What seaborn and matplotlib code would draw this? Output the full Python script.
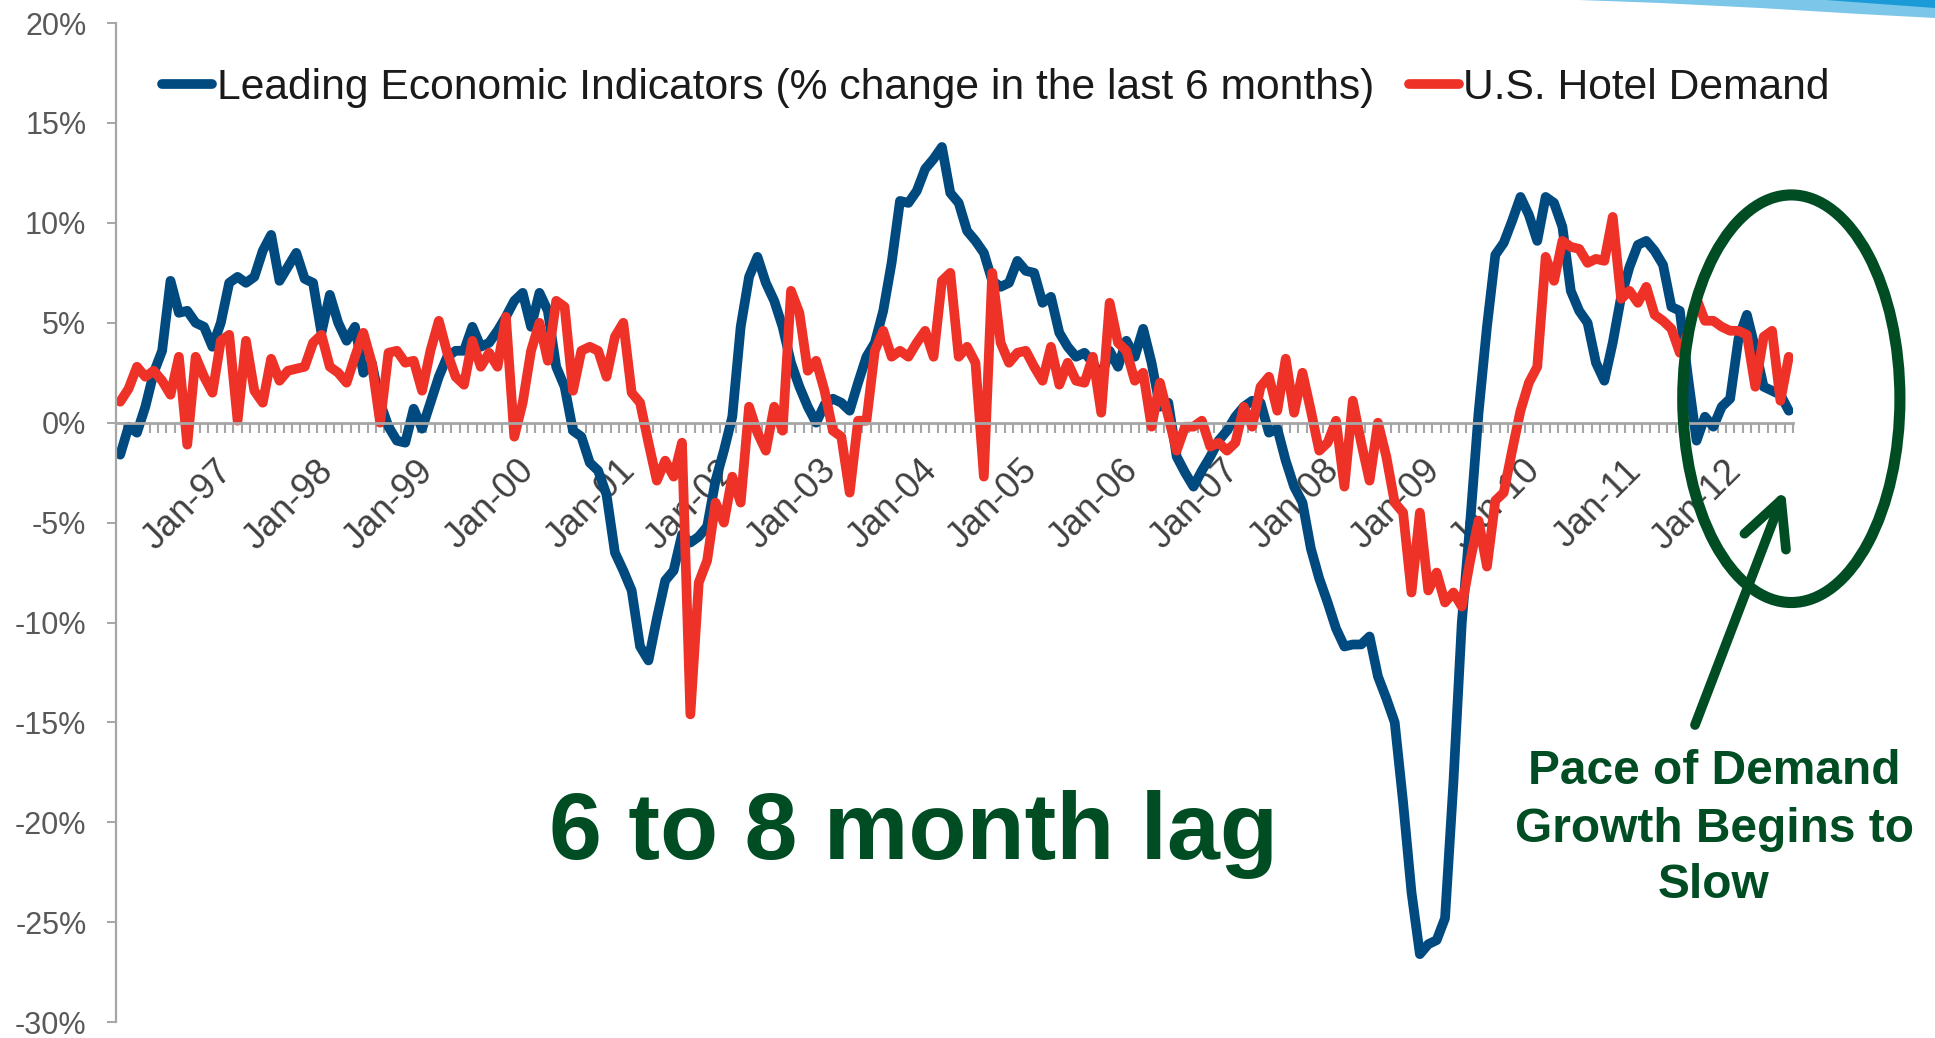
import numpy as np
import pandas as pd
import matplotlib
matplotlib.use("Agg")
import matplotlib.pyplot as plt
import seaborn as sns
from matplotlib.patches import Ellipse, Polygon
from matplotlib.ticker import FuncFormatter
from matplotlib.transforms import ScaledTranslation

# monthly series, Jan-96 .. Aug-12 (values in %)
lei_label = "Leading Economic Indicators (% change in the last 6 months)"
hotel_label = "U.S. Hotel Demand"

lei_values = [
    -1.6, -0.2, -0.5, 0.8, 2.5, 3.6, 7.1, 5.5, 5.6, 5.0, 4.8, 3.8,
    5.0, 7.0, 7.3, 7.0, 7.3, 8.6, 9.4, 7.1, 7.8, 8.5, 7.2, 7.0,
    4.5, 6.4, 5.0, 4.1, 4.8, 2.5, 3.0, 1.0, -0.2, -0.9, -1.0, 0.7,
    -0.3, 1.0, 2.3, 3.3, 3.6, 3.6, 4.8, 3.8, 4.0, 4.6, 5.3, 6.1,
    6.5, 4.8, 6.5, 5.6, 2.8, 1.8, -0.4, -0.7, -2.0, -2.4, -3.6, -6.5,
    -7.4, -8.4, -11.2, -11.9, -9.8, -7.9, -7.4, -5.6, -6.0, -5.7, -5.2, -2.9,
    -1.4, 0.3, 4.8, 7.3, 8.3, 7.0, 6.1, 4.8, 3.0, 1.8, 0.8, 0.0,
    0.9, 1.2, 1.0, 0.6, 2.0, 3.3, 4.0, 5.6, 8.0, 11.1, 11.0, 11.6,
    12.7, 13.2, 13.8, 11.5, 11.0, 9.6, 9.1, 8.5, 7.1, 6.8, 7.0, 8.1,
    7.6, 7.5, 6.0, 6.3, 4.5, 3.8, 3.3, 3.5, 3.0, 2.3, 3.6, 2.8,
    4.1, 3.3, 4.7, 3.0, 0.8, 1.0, -1.7, -2.5, -3.2, -2.4, -1.7, -0.9,
    -0.4, 0.3, 0.8, 1.1, 1.0, -0.5, -0.3, -1.9, -3.2, -4.0, -6.3, -7.8,
    -9.0, -10.3, -11.2, -11.1, -11.1, -10.7, -12.7, -13.8, -15.0, -19.0, -23.5, -26.6,
    -26.1, -25.9, -24.8, -18.0, -10.0, -5.0, 0.5, 4.8, 8.4, 9.0, 10.1, 11.3,
    10.4, 9.1, 11.3, 11.0, 9.8, 6.6, 5.6, 5.0, 3.0, 2.1, 4.0, 6.3,
    7.8, 8.9, 9.1, 8.6, 7.9, 5.8, 5.6, 2.2, -0.9, 0.3, -0.2, 0.8,
    1.2, 4.2, 5.4, 3.7, 1.8, 1.6, 1.4, 0.6,
]

hotel_values = [
    1.05, 1.7, 2.8, 2.3, 2.6, 2.1, 1.4, 3.3, -1.1, 3.3, 2.3, 1.5,
    4.1, 4.4, 0.1, 4.1, 1.6, 1.0, 3.2, 2.1, 2.6, 2.7, 2.8, 4.0,
    4.4, 2.8, 2.5, 2.0, 3.3, 4.5, 3.0, 0.0, 3.5, 3.6, 3.0, 3.1,
    1.6, 3.6, 5.1, 3.5, 2.3, 1.9, 4.1, 2.8, 3.5, 2.8, 5.3, -0.7,
    1.0, 3.6, 5.0, 3.1, 6.1, 5.8, 1.6, 3.6, 3.8, 3.6, 2.3, 4.3,
    5.0, 1.5, 1.0, -1.0, -2.9, -1.9, -2.7, -1.0, -14.6, -8.0, -6.9, -4.0,
    -5.0, -2.7, -4.0, 0.8, -0.5, -1.4, 0.8, -0.4, 6.6, 5.5, 2.6, 3.1,
    1.6, -0.4, -0.7, -3.5, 0.1, 0.1, 3.6, 4.6, 3.3, 3.6, 3.3, 4.0,
    4.6, 3.3, 7.1, 7.5, 3.3, 3.8, 3.0, -2.7, 7.5, 4.0, 3.0, 3.5,
    3.6, 2.8, 2.1, 3.8, 1.9, 3.0, 2.1, 2.0, 3.3, 0.5, 6.0, 4.0,
    3.6, 2.1, 2.5, -0.2, 2.0, 0.3, -1.4, -0.2, -0.2, 0.1, -1.2, -1.0,
    -1.4, -1.0, 0.8, -0.2, 1.8, 2.3, 0.6, 3.2, 0.5, 2.5, 0.6, -1.4,
    -1.0, 0.1, -3.2, 1.1, -1.0, -2.9, 0.0, -1.7, -4.0, -4.5, -8.5, -4.5,
    -8.4, -7.5, -9.0, -8.5, -9.2, -6.9, -4.9, -7.2, -3.9, -3.5, -1.4, 0.6,
    2.0, 2.8, 8.3, 7.1, 9.1, 8.8, 8.7, 8.0, 8.2, 8.1, 10.3, 6.2,
    6.6, 6.0, 6.8, 5.4, 5.1, 4.7, 3.5, 4.5, 6.2, 5.1, 5.1, 4.8,
    4.6, 4.6, 4.4, 1.8, 4.3, 4.6, 1.1, 3.3,
]

months = pd.date_range("1996-01-01", periods=len(lei_values), freq="MS")
y_ticks = list(range(-30, 21, 5))

BLUE = "#004a80"
RED = "#ee3228"
GREEN = "#004d24"
GRAY = "#a6a6a6"

W, H = 1935, 1038
n = len(months)

sns.set_theme(style="white")
plt.rcParams["font.family"] = ["Liberation Sans", "DejaVu Sans"]

df = pd.concat([
    pd.DataFrame({"idx": np.arange(n), "value": lei_values, "series": lei_label}),
    pd.DataFrame({"idx": np.arange(n), "value": hotel_values, "series": hotel_label}),
])

fig = plt.figure(figsize=(W / 100, H / 100), dpi=100)
ax = fig.add_axes([116 / W, 1 - 1022.1 / H, (1793 - 116) / W, (1022.1 - 23.1) / H])

sns.lineplot(data=df, x="idx", y="value", hue="series", hue_order=[lei_label, hotel_label],
             palette=[BLUE, RED], linewidth=7, ax=ax, sort=False, estimator=None,
             solid_capstyle="round", solid_joinstyle="round")

ax.set_xlim(-0.5, n - 0.5)
ax.set_ylim(-30, 20)
ax.set_xlabel(""); ax.set_ylabel("")

for s in ["top", "right"]:
    ax.spines[s].set_visible(False)
ax.spines["bottom"].set_position(("data", 0))
ax.spines["bottom"].set_color(GRAY); ax.spines["bottom"].set_linewidth(2)
ax.spines["left"].set_color(GRAY); ax.spines["left"].set_linewidth(1.6)

ax.set_yticks(y_ticks)
ax.yaxis.set_major_formatter(FuncFormatter(lambda v, p: f"{v:.0f}%"))
ax.tick_params(axis="y", length=6.5, width=1.4, color=GRAY, labelsize=22,
               labelcolor="#595959", pad=14.8, left=True)

jan_idx = [i for i, m in enumerate(months) if m.month == 1 and i > 0]
ax.set_xticks(jan_idx)
ax.set_xticklabels([months[i].strftime("%b-%y") for i in jan_idx],
                   rotation=45, ha="right", rotation_mode="anchor")
ax.set_xticks(np.arange(n + 1) - 0.5, minor=True)
ax.tick_params(axis="x", which="major", length=0, pad=22, labelsize=26, labelcolor="#404040")
ax.tick_params(axis="x", which="minor", length=7.5, width=1.5, color=GRAY,
               direction="out", bottom=True)
shift = ScaledTranslation(-6 / 100, 0, fig.dpi_scale_trans)
for lab in ax.get_xticklabels():
    lab.set_transform(lab.get_transform() + shift)

sns.move_legend(ax, "center left", bbox_to_anchor=(0.0274, 0.935), ncol=2, frameon=False,
                title=None, fontsize=30.7, handlelength=1.18, handletextpad=0.1,
                columnspacing=0.82, borderpad=0, borderaxespad=0)
leg = ax.get_legend()
for line in leg.get_lines():
    line.set_linewidth(7)
    line.set_solid_capstyle("round")
for t in leg.get_texts():
    t.set_color("#1a1a1a")

# annotation: ellipse round the last months, arrow and notes
ax.add_patch(Ellipse((199.3, 1.2), width=25.9, height=20.4, fill=False,
                     edgecolor=GREEN, lw=8, clip_on=False, zorder=5))
ax.annotate("", xy=(1785 / W, 1 - 490 / H), xycoords="figure fraction",
            xytext=(1695 / W, 1 - 725 / H), textcoords="figure fraction",
            arrowprops=dict(arrowstyle="->,head_length=3.2,head_width=1.6", lw=7,
                            color=GREEN, shrinkA=0, shrinkB=0, mutation_scale=10),
            annotation_clip=False)

fig.text(913 / W, 1 - 859 / H, "6 to 8 month lag", fontsize=68.5, fontweight="bold",
         color=GREEN, ha="center", va="baseline")
for txt, yb in zip(["Pace of Demand", "Growth Begins to", "Slow"], [784, 842, 898]):
    fig.text(1714 / W, 1 - yb / H, txt, fontsize=34.5, fontweight="bold",
             color=GREEN, ha="center", va="baseline")

# blue swoosh in the top right corner
def px(pts):
    return [(x / W, 1 - y / H) for x, y in pts]

fig.add_artist(Polygon(px([(1579, 0), (1935, 0), (1935, 18), (1860, 14), (1760, 8), (1660, 3)]),
                       closed=True, transform=fig.transFigure, facecolor="#7cc6ea", edgecolor="none"))
fig.add_artist(Polygon(px([(1826, 0), (1935, 0), (1935, 8), (1880, 4)]),
                       closed=True, transform=fig.transFigure, facecolor="#1a9ad6", edgecolor="none"))

fig.savefig("out.png", dpi=100)
